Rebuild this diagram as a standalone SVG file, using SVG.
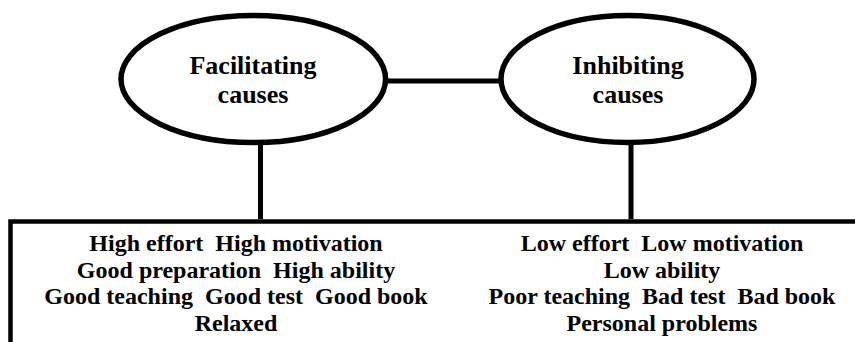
<svg xmlns="http://www.w3.org/2000/svg" width="855" height="342" viewBox="0 0 855 342">
<style>
.node{fill:#fff;stroke:#000;stroke-width:5.5}
.ln{stroke:#000;stroke-width:5;fill:none}
text{font-family:'Liberation Serif','Times New Roman','DejaVu Serif',serif;font-weight:700;fill:#000;text-anchor:middle;white-space:pre}
.big{font-size:26px}
.sm{font-size:24px}
</style>
<rect width="855" height="342" fill="#fff"/>
<g id="connectors">
<line class="ln" x1="385" y1="81" x2="501" y2="81"/>
<line class="ln" x1="260.5" y1="142" x2="260.5" y2="219"/>
<line class="ln" x1="631" y1="142" x2="631" y2="219"/>
<polyline class="ln" points="10.5,342 10.5,221.5 855,221.5" style="stroke-width:4.5"/>
</g>
<g id="facilitating">
<ellipse class="node" cx="253.3" cy="79" rx="132.3" ry="63.5"/>
<text class="big" x="253" y="74" font-family="Liberation Serif, serif">Facilitating</text>
<text class="big" x="253" y="103" font-family="Liberation Serif, serif">causes</text>
</g>
<g id="inhibiting">
<ellipse class="node" cx="627.5" cy="79" rx="126.5" ry="63.5"/>
<text class="big" x="628" y="74">Inhibiting</text>
<text class="big" x="628" y="103">causes</text>
</g>
<g id="facilitating-list">
<text class="sm" x="236" y="251">High effort  High motivation</text>
<text class="sm" x="236" y="277.7">Good preparation  High ability</text>
<text class="sm" x="236" y="304.3">Good teaching  Good test  Good book</text>
<text class="sm" x="236" y="331">Relaxed</text>
</g>
<g id="inhibiting-list">
<text class="sm" x="662" y="251">Low effort  Low motivation</text>
<text class="sm" x="662" y="277.7">Low ability</text>
<text class="sm" x="662" y="304.3">Poor teaching  Bad test  Bad book</text>
<text class="sm" x="662" y="331">Personal problems</text>
</g>
</svg>
